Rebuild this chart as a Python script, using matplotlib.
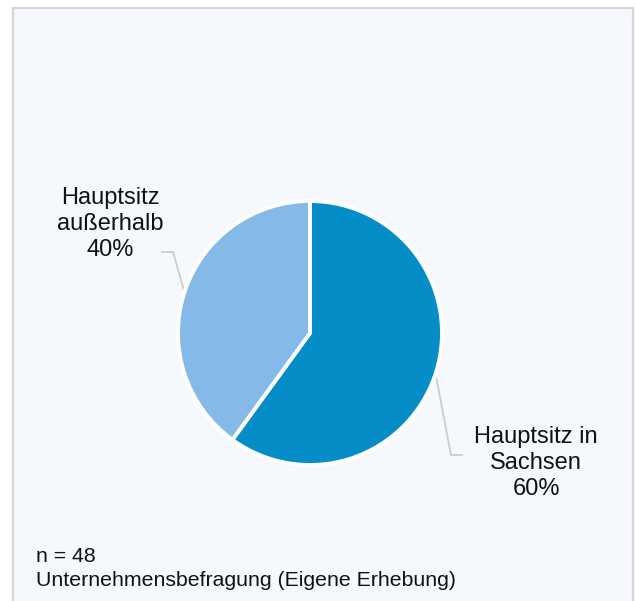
import matplotlib
matplotlib.use("Agg")
import matplotlib.pyplot as plt
import numpy as np
from matplotlib.patches import Rectangle

categories = ["Hauptsitz in\nSachsen", "Hauptsitz\naußerhalb"]
values = [60, 40]
colors = ["#058DC7", "#85BAE8"]
note_lines = ["n = 48", "Unternehmensbefragung (Eigene Erhebung)"]

W, H = 636, 601
DPI = 100
plt.rcParams['font.family'] = ['Liberation Sans', 'DejaVu Sans']

fig = plt.figure(figsize=(W / DPI, H / DPI), dpi=DPI)
fig.patch.set_facecolor("white")

# overlay axes in pixel coordinates
ov = fig.add_axes([0, 0, 1, 1])
ov.set_xlim(0, W)
ov.set_ylim(H, 0)
ov.axis("off")
ov.add_patch(Rectangle((13, 8), 620, H + 10, facecolor="#F5F8FD",
                       edgecolor="#D6D6D6", linewidth=1.6, zorder=0))

cx, cy, r = 310, 333, 132
pax = fig.add_axes([(cx - r) / W, (H - cy - r) / H, 2 * r / W, 2 * r / H])
wedges, _ = pax.pie(values, colors=colors, startangle=90, counterclock=False,
                    wedgeprops=dict(edgecolor="white", linewidth=2.8))
pax.set_xlim(-1, 1)
pax.set_ylim(-1, 1)
pax.set_aspect("auto")
pax.axis("off")

# leader lines and labels
elbows = [(451, 455, 462), (173, 252, 162)]
text_pos = [(536, 463), (110, 224)]
for w, v, lab, (ex, ey, hx), (tx, ty) in zip(wedges, values, categories, elbows, text_pos):
    mid = np.deg2rad((w.theta1 + w.theta2) / 2)
    sx = cx + r * np.cos(mid)
    sy = cy - r * np.sin(mid)
    ov.plot([sx, ex, hx], [sy, ey, ey], color="#CCCCCC", lw=1.3, zorder=1)
    ov.text(tx, ty, f"{lab}\n{v}%", ha="center", va="center", fontsize=17,
            color="#111111", linespacing=1.26, zorder=3)

ov.text(36, 556, note_lines[0], ha="left", va="center", fontsize=15.3, color="#111111")
ov.text(36, 581, note_lines[1], ha="left", va="center", fontsize=15.3, color="#111111")

fig.savefig("out.png", dpi=DPI)
